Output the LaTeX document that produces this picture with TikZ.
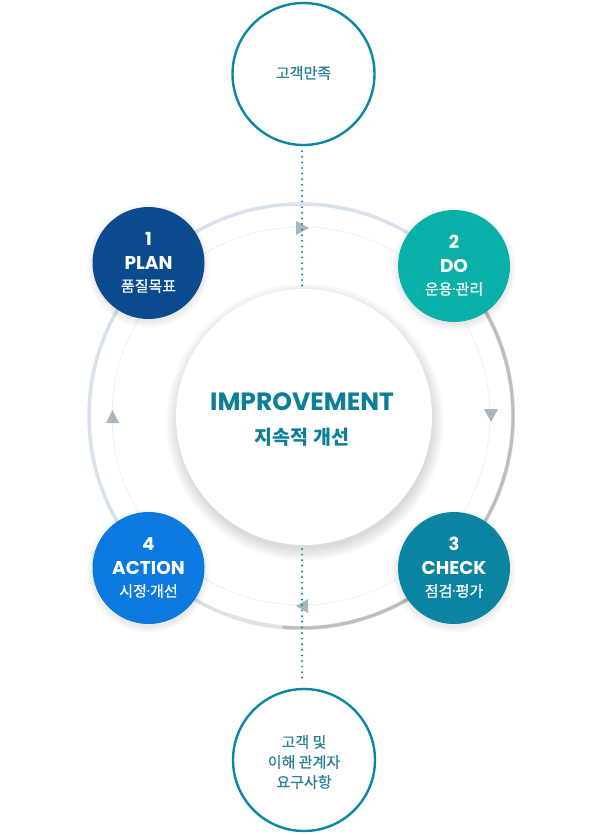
\documentclass[tikz,border=0pt]{standalone}
\usepackage{fontspec}
\setmainfont{Poppins}
\newfontfamily\kr{Noto Sans CJK KR}
\newfontfamily\krm[FakeBold=0.8]{Noto Sans CJK KR}
\newcommand{\mdt}{\hbox{\normalfont\mdseries ·}}
% soft shadow: x, y, radius, steps, step size, opacity
\newcommand{\softshadow}[6]{%
  \foreach \i in {1,...,#4}{\fill[black, opacity=#6] (#1,#2) circle[radius=#3+\i*#5];}}
\definecolor{ringblue}{HTML}{D9E2EC}
\definecolor{ringgray}{HTML}{BEBEBE}
\definecolor{faint}{HTML}{EEEFF2}
\definecolor{tri}{HTML}{A8B5C3}
\definecolor{teal}{HTML}{0C87A1}
\definecolor{tealtext}{HTML}{2A7F98}
\definecolor{centertext}{HTML}{0B7E98}
\definecolor{plancol}{HTML}{0B4A8E}
\definecolor{docol}{HTML}{09B0A8}
\definecolor{checkcol}{HTML}{0A84A0}
\definecolor{actioncol}{HTML}{0B79DF}
\tikzset{
  stepcircle/.style={circle, minimum size=112pt, inner sep=0pt, fill=#1},
  numtext/.style={text=white, font=\bfseries\fontsize{18}{18}\selectfont},
  titletext/.style={text=white, font=\bfseries\fontsize{18.5}{18.5}\selectfont},
  kortext/.style={text=white, font=\krm\fontsize{15}{15}\selectfont},
  outercircle/.style={circle, minimum size=142pt, inner sep=0pt, draw=teal, line width=2.4pt, fill=white},
  dotline/.style={teal, line width=2.2pt, dash pattern=on 0pt off 5.6pt, line cap=round},
}
\begin{document}
\begin{tikzpicture}[x=1pt,y=-1pt]
\useasboundingbox (0,0) rectangle (604,835);
\fill[white] (0,0) rectangle (604,835);
% ring
\draw[ringblue, line width=3.5pt] (301,416) circle[radius=212];
\draw[ringgray!45, line width=4pt] ([shift={(-45:212)}]301,416) arc[start angle=-45, end angle=110, radius=212];
\draw[ringgray, line width=3pt] ([shift={(-30:212)}]301,416) arc[start angle=-30, end angle=95, radius=212];
\draw[faint, line width=0.8pt] (301,416) circle[radius=189];
% triangles
\fill[tri] (296,221) -- (309,228) -- (296,235) -- cycle;
\fill[tri] (484,409) -- (498,409) -- (491,422) -- cycle;
\fill[tri] (308,599) -- (296,606) -- (308,613) -- cycle;
\fill[tri] (106,423) -- (112.5,410) -- (119,423) -- cycle;
% outer nodes
\node[outercircle] (topc) at (303.5,74) {};
\node[text=tealtext, font=\krm\fontsize{15}{15}\selectfont] (toptext) at (303.5,73) {고객만족};
\node[outercircle] (botc) at (304,760) {};
\node[text=tealtext, font=\krm\fontsize{15}{20}\selectfont, align=center] (bottext) at (304,762) {고객 및\\이해 관계자\\요구사항};
\coordinate (tend) at (302,286);
\coordinate (bstart) at (302,549);
\draw[dotline] ([xshift=-1.5pt,yshift=-5pt]topc.south) -- (tend);
\draw[dotline] (bstart) -- ([xshift=-2pt,yshift=5pt]botc.north);
% center
\softshadow{305}{422}{126}{12}{1.1}{0.010}
\node[circle, minimum size=256pt, inner sep=0pt, fill=white] (center) at (304,417) {};
\node[text=centertext, font=\bfseries\fontsize{25}{25}\selectfont] (imp) at (302,402) {IMPROVEMENT};
\node[text=centertext, font=\kr\bfseries\fontsize{19.5}{19.5}\selectfont] (impkr) at (302,437) {지속적 개선};
% step circles
\softshadow{148.5}{266}{55}{7}{1}{0.010}
\node[stepcircle=plancol] (plan) at (148.5,263) {};
\node[numtext] (plann) at ([yshift=24pt]plan.center) {1};
\node[titletext] (plant) at (plan.center) {PLAN};
\node[kortext] (plank) at ([yshift=-23pt]plan.center) {품질목표};
\softshadow{454}{269}{55}{7}{1}{0.010}
\node[stepcircle=docol] (do) at (454,266) {};
\node[numtext] (don) at ([yshift=24pt]do.center) {2};
\node[titletext] (dot) at (do.center) {DO};
\node[kortext] (dok) at ([yshift=-23pt]do.center) {운용\mdt 관리};
\softshadow{454}{571}{55}{7}{1}{0.010}
\node[stepcircle=checkcol] (check) at (454,568) {};
\node[numtext] (checkn) at ([yshift=24pt]check.center) {3};
\node[titletext] (checkt) at (check.center) {CHECK};
\node[kortext] (checkk) at ([yshift=-23pt]check.center) {점검\mdt 평가};
\softshadow{148.5}{571}{55}{7}{1}{0.010}
\node[stepcircle=actioncol] (action) at (148.5,568) {};
\node[numtext] (actionn) at ([yshift=24pt]action.center) {4};
\node[titletext] (actiont) at (action.center) {ACTION};
\node[kortext] (actionk) at ([yshift=-23pt]action.center) {시정\mdt 개선};
\end{tikzpicture}
\end{document}
